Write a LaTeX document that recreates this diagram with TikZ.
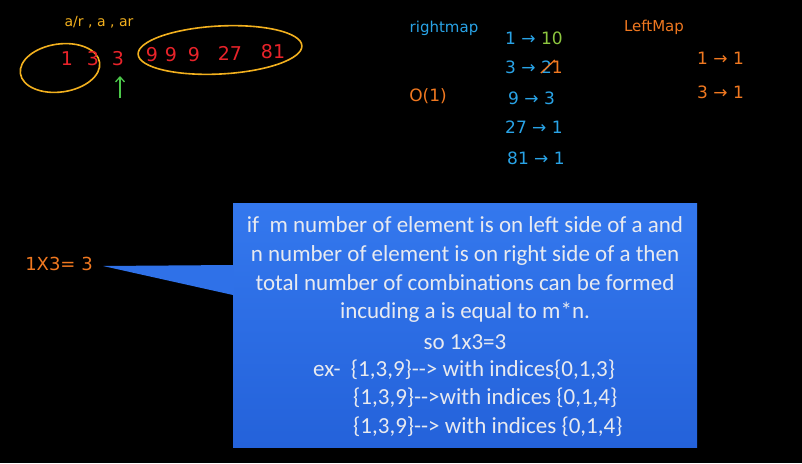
\documentclass[tikz,border=0pt]{standalone}
\usepackage{fontspec}
\setmainfont{Carlito}
\newfontfamily\hand{DejaVu Sans}
\usetikzlibrary{shapes.geometric,arrows.meta}
\definecolor{bgc}{HTML}{000000}
\definecolor{yel}{HTML}{F2B01E}
\definecolor{redc}{HTML}{E8232A}
\definecolor{grn}{HTML}{4CC84A}
\definecolor{blu}{HTML}{29A3E6}
\definecolor{orn}{HTML}{F07820}
\definecolor{lgrn}{HTML}{8DC63F}
\definecolor{boxtop}{HTML}{3478EE}
\definecolor{boxbot}{HTML}{2462DA}
\definecolor{txt}{HTML}{E8EAF0}
\tikzset{
  hw/.style={font=\hand\fontsize{17}{17}\selectfont, inner sep=0pt},
  hwr/.style={font=\hand\fontsize{19}{19}\selectfont, inner sep=0pt, text=redc},
  hws/.style={font=\hand\fontsize{15}{15}\selectfont, inner sep=0pt},
  loop/.style={draw=yel, line width=1.6pt, ellipse, inner sep=0pt},
  bl/.style={font=\fontsize{23}{23}\selectfont, text=txt, inner sep=0pt},
}
\begin{document}
\begin{tikzpicture}[x=1pt,y=-1pt]
\useasboundingbox (0,0) rectangle (802,463);
\fill[bgc] (0,0) rectangle (802,463);
% top-left sequence
\node[hws, text=yel, font=\hand\fontsize{14}{14}\selectfont] (gp) at (99,22) {a/r , a , ar};
\node[loop, minimum width=80, minimum height=48, rotate=8] (lloop) at (60,68) {};
\node[loop, minimum width=164, minimum height=48, rotate=3] (rloop) at (220,50) {};
\node[hwr] (n1) at (67,59) {1};
\node[hwr] (n2) at (93,59) {3};
\node[hwr] (n3) at (118,59) {3};
\node[hwr] (n4) at (152,55) {9};
\node[hwr] (n5) at (171,55) {9};
\node[hwr] (n6) at (194,55) {9};
\node[hwr] (n7) at (230,53) {27};
\node[hwr] (n8) at (273,52) {81};
\coordinate (arb) at (120,98);
\coordinate (art) at (120,76);
\draw[grn, line width=1.3pt, -{Straight Barb[length=5pt,width=9pt]}] (arb) -- (art);
% right map
\node[hws, text=blu] (rm) at (444,28) {rightmap};
\node[hw, text=orn] (o1) at (428,96) {O(1)};
\node[hw, text=blu, anchor=west] (r1) at (505,38) {1 → \textcolor{lgrn}{10}};
\node[hw, text=blu, anchor=west] (r2) at (505,67) {3 → 2\textcolor{orn}{1}};
\draw[orn, line width=1.3pt] ([xshift=-22pt,yshift=-6pt]r2.east) -- ([xshift=-8pt,yshift=7pt]r2.east);
\node[hw, text=blu, anchor=west] (r3) at (508,98) {9 → 3};
\node[hw, text=blu, anchor=west] (r4) at (505,127) {27 → 1};
\node[hw, text=blu, anchor=west] (r5) at (507,158) {81 → 1};
% left map
\node[hws, text=orn] (lm) at (654,27) {LeftMap};
\node[hw, text=orn, anchor=west] (l1) at (697,58) {1 → 1};
\node[hw, text=orn, anchor=west] (l2) at (697,92) {3 → 1};
% result
\node[hw, text=orn, font=\hand\fontsize{18}{18}\selectfont] (res) at (59,264) {1X3= 3};
% callout box
\node[draw=none, top color=boxtop, bottom color=boxbot, minimum width=464, minimum height=244, anchor=north west, inner sep=0pt] (box) at (233,203) {};
\coordinate (tip) at (103,266);
\fill[boxtop!70!boxbot] (tip) -- (box.north west |- 0,265) -- (box.north west |- 0,295) -- cycle;
\fill[boxtop!70!boxbot] ([xshift=-0.5pt]box.north west |- 0,264) rectangle ([xshift=1pt]box.north west |- 0,296);
\node[bl] (t1) at (465,225) {if\ \ m number of element is on left side of a and};
\node[bl] (t2) at (465,255) {n number of element is on right side of a then};
\node[bl] (t3) at (465,283) {total number of combinations can be formed};
\node[bl] (t4) at (465,312) {incuding a is equal to m*n.};
\node[bl] (t5) at (465,342) {so 1x3=3};
\node[bl, anchor=west] (t6) at (313,370) {ex-\ \ \{1,3,9\}-{}-> with indices\{0,1,3\}};
\node[bl, anchor=west] (t7) at (353,398) {\{1,3,9\}-{}->with indices \{0,1,4\}};
\node[bl, anchor=west] (t8) at (353,427) {\{1,3,9\}-{}-> with indices \{0,1,4\}};
\end{tikzpicture}
\end{document}
